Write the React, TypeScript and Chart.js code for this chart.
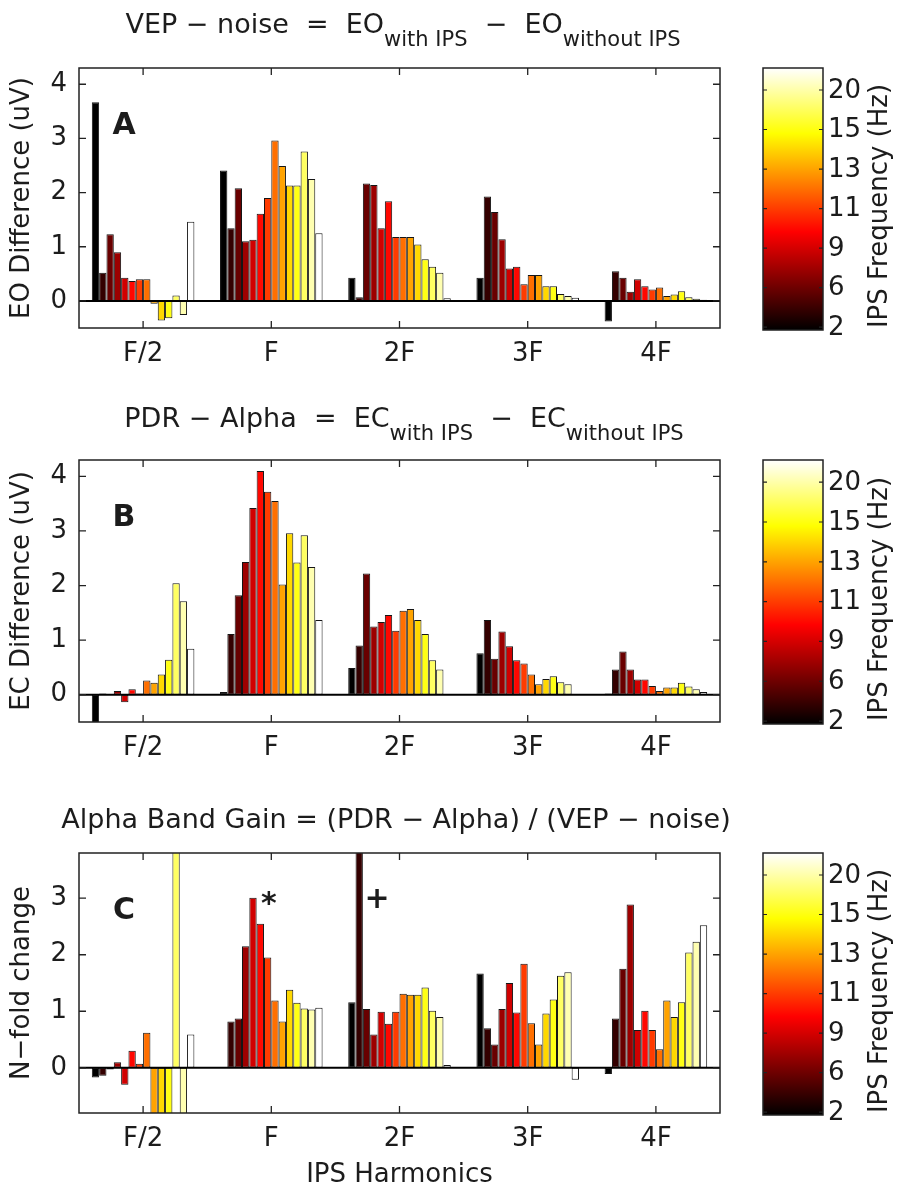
import React, { useEffect, useRef } from 'react';
import { Chart, registerables } from 'chart.js';

Chart.register(...registerables);

// ---------- data ----------
const harmonicLabels = ['F/2', 'F', '2F', '3F', '4F'];
const colorbarTickLabels = ['20', '15', '13', '11', '9', '6', '2'];
const BARS_PER_GROUP = 14;

// Panel A: EO difference (uV), 14 IPS frequencies per harmonic
const eoF2 = [3.67, 0.52, 1.23, 0.9, 0.43, 0.37, 0.4, 0.4, -0.05, -0.36, -0.32, 0.1, -0.26, 1.46];
const eoF = [2.41, 1.34, 2.08, 1.1, 1.13, 1.61, 1.9, 2.96, 2.49, 2.13, 2.13, 2.76, 2.25, 1.25];
const eo2F = [0.43, 0.07, 2.17, 2.14, 1.34, 1.84, 1.18, 1.18, 1.18, 1.04, 0.77, 0.63, 0.52, 0.05];
const eo3F = [0.43, 1.93, 1.64, 1.14, 0.6, 0.63, 0.31, 0.48, 0.48, 0.27, 0.27, 0.13, 0.09, 0.06];
const eo4F = [-0.38, 0.55, 0.43, 0.17, 0.4, 0.27, 0.21, 0.25, 0.09, 0.12, 0.18, 0.07, 0.04, 0.02];

// Panel B: EC difference (uV)
const ecF2 = [-0.6, 0.02, 0.0, 0.07, -0.14, 0.1, 0.02, 0.26, 0.22, 0.37, 0.64, 2.04, 1.71, 0.84];
const ecF = [0.05, 1.11, 1.82, 2.43, 3.42, 4.1, 3.72, 3.55, 2.02, 2.96, 2.42, 2.92, 2.34, 1.37];
const ec2F = [0.49, 0.9, 2.22, 1.25, 1.33, 1.46, 1.17, 1.54, 1.57, 1.37, 1.11, 0.63, 0.46, 0.0];
const ec3F = [0.76, 1.37, 0.66, 1.16, 0.89, 0.63, 0.57, 0.37, 0.19, 0.29, 0.34, 0.23, 0.19, 0.0];
const ec4F = [0.02, 0.46, 0.79, 0.46, 0.28, 0.28, 0.16, 0.07, 0.13, 0.13, 0.22, 0.15, 0.1, 0.05];

// Panel C: alpha band gain (N-fold change)
const gainF2 = [-0.17, -0.14, -0.03, 0.1, -0.3, 0.3, 0.07, 0.62, -2.0, -2.0, -2.0, 6.0, -2.0, 0.59];
const gainF = [0.0, 0.82, 0.87, 2.15, 3.01, 2.55, 1.95, 1.19, 0.82, 1.38, 1.15, 1.05, 1.03, 1.06];
const gain2F = [1.16, 5.0, 1.04, 0.59, 0.99, 0.78, 0.99, 1.31, 1.29, 1.29, 1.42, 1.01, 0.9, 0.05];
const gain3F = [1.67, 0.7, 0.41, 1.04, 1.5, 0.98, 1.84, 0.79, 0.41, 0.96, 1.21, 1.63, 1.69, -0.21];
const gain4F = [-0.11, 0.87, 1.75, 2.89, 0.67, 1.01, 0.67, 0.33, 1.19, 0.9, 1.16, 2.04, 2.23, 2.52];

const yTicksAB = [0, 1, 2, 3, 4];
const yTicksC = [0, 1, 2, 3];

// ---------- style ----------
const W = 899;
const PLOT_LEFT = 79;
const PLOT_RIGHT = 720;
const CB_LEFT = 763;
const CB_RIGHT = 823;
const FONT = '"DejaVu Sans", "Liberation Sans", sans-serif';
const TEXT = '#1c1c1c';
const FS = 26;
const TITLE_FS = 27;
const SUB_FS = 21;
const TICK = 7;

function hot(t: number): string {
  const r = Math.min(1, t / 0.375);
  const g = Math.min(1, Math.max(0, (t - 0.375) / 0.375));
  const b = Math.min(1, Math.max(0, (t - 0.75) / 0.25));
  return `rgb(${Math.round(r * 255)},${Math.round(g * 255)},${Math.round(b * 255)})`;
}

type TitlePart = { text: string; sub?: boolean };
type Mark = { text: string; x: number; y: number };
interface PanelSpec {
  letter: string;
  canvasTop: number;
  height: number;
  plotTop: number;
  plotBottom: number;
  yMin: number;
  yMax: number;
  yTicks: number[];
  yTitle: string;
  title: TitlePart[];
  titleBaseline: number;
  titleCenter: number;
  groups: number[][];
  xTitle?: string;
  marks?: Mark[];
}

const panels: PanelSpec[] = [
  {
    letter: 'A', canvasTop: 0, height: 385, plotTop: 68, plotBottom: 328,
    yMin: -0.5, yMax: 4.3, yTicks: yTicksAB, yTitle: 'EO Difference (uV)',
    title: [
      { text: 'VEP − noise  =  EO' }, { text: 'with IPS', sub: true },
      { text: '  −  EO' }, { text: 'without IPS', sub: true },
    ],
    titleBaseline: 33, titleCenter: 403,
    groups: [eoF2, eoF, eo2F, eo3F, eo4F],
  },
  {
    letter: 'B', canvasTop: 385, height: 395, plotTop: 75, plotBottom: 337,
    yMin: -0.5, yMax: 4.3, yTicks: yTicksAB, yTitle: 'EC Difference (uV)',
    title: [
      { text: 'PDR − Alpha  =  EC' }, { text: 'with IPS', sub: true },
      { text: '  −  EC' }, { text: 'without IPS', sub: true },
    ],
    titleBaseline: 42, titleCenter: 404,
    groups: [ecF2, ecF, ec2F, ec3F, ec4F],
  },
  {
    letter: 'C', canvasTop: 780, height: 409, plotTop: 73, plotBottom: 333,
    yMin: -0.8, yMax: 3.8, yTicks: yTicksC, yTitle: 'N−fold change',
    title: [{ text: 'Alpha Band Gain = (PDR − Alpha) / (VEP − noise)' }],
    titleBaseline: 48, titleCenter: 396,
    groups: [gainF2, gainF, gain2F, gain3F, gain4F],
    xTitle: 'IPS Harmonics',
    marks: [{ text: '*', x: 1.98, y: 3.0 }, { text: '+', x: 2.825, y: 3.0 }],
  },
];

function drawCentered(ctx: CanvasRenderingContext2D, text: string, x: number, y: number) {
  const m = ctx.measureText(text);
  const asc = m.actualBoundingBoxAscent;
  const desc = m.actualBoundingBoxDescent;
  ctx.textAlign = 'center';
  ctx.textBaseline = 'alphabetic';
  ctx.fillText(text, x, y + (asc - desc) / 2);
}

function makeDecor(spec: PanelSpec) {
  return {
    id: 'decor' + spec.letter,
    afterDatasetsDraw(chart: any) {
      const { ctx, chartArea: a, scales } = chart;
      const xs = scales.x;
      const ys = scales.y;
      ctx.save();
      const y0 = ys.getPixelForValue(0);
      ctx.strokeStyle = '#000';
      ctx.lineWidth = 2;
      ctx.beginPath();
      ctx.moveTo(a.left, y0);
      ctx.lineTo(a.right, y0);
      ctx.stroke();

      ctx.strokeStyle = '#222';
      ctx.lineWidth = 1.5;
      ctx.strokeRect(a.left, a.top, a.right - a.left, a.bottom - a.top);

      ctx.lineWidth = 1.3;
      ctx.beginPath();
      xs.ticks.forEach((t: any) => {
        const px = xs.getPixelForValue(t.value);
        ctx.moveTo(px, a.bottom);
        ctx.lineTo(px, a.bottom - TICK);
        ctx.moveTo(px, a.top);
        ctx.lineTo(px, a.top + TICK);
      });
      ys.ticks.forEach((t: any) => {
        const py = ys.getPixelForValue(t.value);
        ctx.moveTo(a.left, py);
        ctx.lineTo(a.left + TICK, py);
        ctx.moveTo(a.right, py);
        ctx.lineTo(a.right - TICK, py);
      });
      ctx.stroke();
      ctx.restore();
    },
    afterDraw(chart: any) {
      const { ctx, chartArea: a, scales } = chart;
      const xs = scales.x;
      const ys = scales.y;
      ctx.save();
      ctx.fillStyle = TEXT;

      // title with subscripts
      const widths = spec.title.map((p) => {
        ctx.font = `${p.sub ? SUB_FS : TITLE_FS}px ${FONT}`;
        return ctx.measureText(p.text).width;
      });
      const total = widths.reduce((s, w) => s + w, 0);
      let tx = spec.titleCenter - total / 2;
      ctx.textAlign = 'left';
      ctx.textBaseline = 'alphabetic';
      spec.title.forEach((p, i) => {
        ctx.font = `${p.sub ? SUB_FS : TITLE_FS}px ${FONT}`;
        ctx.fillText(p.text, tx, spec.titleBaseline + (p.sub ? 13 : 0));
        tx += widths[i];
      });

      // y title
      ctx.font = `${FS}px ${FONT}`;
      ctx.save();
      ctx.translate(22, (a.top + a.bottom) / 2);
      ctx.rotate(-Math.PI / 2);
      ctx.textAlign = 'center';
      ctx.textBaseline = 'middle';
      ctx.fillText(spec.yTitle, 0, 0);
      ctx.restore();

      // x title
      if (spec.xTitle) {
        ctx.font = `${FS}px ${FONT}`;
        drawCentered(ctx, spec.xTitle, (a.left + a.right) / 2, a.bottom + 59);
      }

      // panel letter
      ctx.font = `bold 30px ${FONT}`;
      drawCentered(ctx, spec.letter, a.left + 45, a.top + 55);

      // marks
      (spec.marks || []).forEach((m) => {
        ctx.font = `bold 30px ${FONT}`;
        drawCentered(ctx, m.text, xs.getPixelForValue(m.x), ys.getPixelForValue(m.y));
      });

      // colorbar
      const cbTop = a.top;
      const cbBottom = a.bottom + 2;
      const cbH = cbBottom - cbTop;
      const grad = ctx.createLinearGradient(0, cbBottom, 0, cbTop);
      grad.addColorStop(0, hot(0));
      grad.addColorStop(0.375, hot(0.375));
      grad.addColorStop(0.75, hot(0.75));
      grad.addColorStop(1, hot(1));
      ctx.fillStyle = grad;
      ctx.fillRect(CB_LEFT, cbTop, CB_RIGHT - CB_LEFT, cbH);
      ctx.strokeStyle = '#222';
      ctx.lineWidth = 1.5;
      ctx.strokeRect(CB_LEFT, cbTop, CB_RIGHT - CB_LEFT, cbH);
      ctx.lineWidth = 1.2;
      ctx.fillStyle = TEXT;
      ctx.font = `${FS}px ${FONT}`;
      ctx.textAlign = 'left';
      ctx.textBaseline = 'middle';
      colorbarTickLabels.forEach((lab, k) => {
        const py = cbTop + cbH * (0.084 + k * 0.1508);
        ctx.beginPath();
        ctx.moveTo(CB_LEFT, py);
        ctx.lineTo(CB_LEFT + 4, py);
        ctx.moveTo(CB_RIGHT, py);
        ctx.lineTo(CB_RIGHT - 4, py);
        ctx.stroke();
        ctx.fillText(lab, 828, py + 1);
      });
      ctx.save();
      ctx.translate(880, (a.top + a.bottom) / 2 + 8);
      ctx.rotate(-Math.PI / 2);
      ctx.textAlign = 'center';
      ctx.textBaseline = 'middle';
      ctx.fillText('IPS Frequency (Hz)', 0, 0);
      ctx.restore();

      ctx.restore();
    },
  };
}

function Panel({ spec }: { spec: PanelSpec }) {
  const ref = useRef<HTMLCanvasElement | null>(null);
  useEffect(() => {
    if (!ref.current) return;
    const points: { x: number; y: number }[] = [];
    const colors: string[] = [];
    spec.groups.forEach((vals, g) => {
      vals.forEach((v, i) => {
        points.push({ x: g + 1 - 0.4 + ((i + 0.5) * 0.8) / BARS_PER_GROUP, y: v });
        colors.push(hot(i / (BARS_PER_GROUP - 1)));
      });
    });
    const chart = new Chart(ref.current, {
      type: 'bar',
      data: {
        datasets: [
          {
            data: points as any,
            backgroundColor: colors,
            borderColor: '#151515',
            borderWidth: 1,
            borderSkipped: false,
            barPercentage: 1,
            categoryPercentage: 1,
            inflateAmount: 0,
            clip: 0,
          } as any,
        ],
      },
      options: {
        responsive: false,
        animation: false,
        layout: { padding: { left: 0, top: spec.plotTop, right: W - PLOT_RIGHT, bottom: 0 } },
        plugins: { legend: { display: false }, tooltip: { enabled: false }, title: { display: false } },
        scales: {
          x: {
            type: 'linear',
            min: 0.5,
            max: 5.5,
            offset: false,
            grid: { display: false, drawTicks: false, offset: false },
            border: { display: false },
            afterBuildTicks: (s: any) => {
              s.ticks = harmonicLabels.map((_, i) => ({ value: i + 1 }));
            },
            afterFit: (s: any) => {
              s.height = spec.height - spec.plotBottom;
            },
            ticks: {
              autoSkip: false,
              maxRotation: 0,
              padding: 11,
              color: TEXT,
              font: { family: FONT, size: FS },
              callback: (_v: any, i: number) => harmonicLabels[i],
            },
          },
          y: {
            type: 'linear',
            min: spec.yMin,
            max: spec.yMax,
            grid: { display: false, drawTicks: false },
            border: { display: false },
            afterBuildTicks: (s: any) => {
              s.ticks = spec.yTicks.map((v) => ({ value: v }));
            },
            afterFit: (s: any) => {
              s.width = PLOT_LEFT;
            },
            ticks: {
              padding: 12,
              color: TEXT,
              font: { family: FONT, size: FS },
              callback: (v: any) => String(v),
            },
          },
        },
      } as any,
      plugins: [makeDecor(spec)],
    });
    return () => chart.destroy();
  }, [spec]);
  return (
    <div style={{ position: 'absolute', left: 0, top: spec.canvasTop, width: W, height: spec.height }}>
      <canvas ref={ref} width={W} height={spec.height} />
    </div>
  );
}

export default function App() {
  return (
    <div style={{ position: 'absolute', left: 0, top: 0, width: W, height: 1189, background: '#fff', overflow: 'hidden' }}>
      {panels.map((p) => (
        <Panel key={p.letter} spec={p} />
      ))}
    </div>
  );
}
